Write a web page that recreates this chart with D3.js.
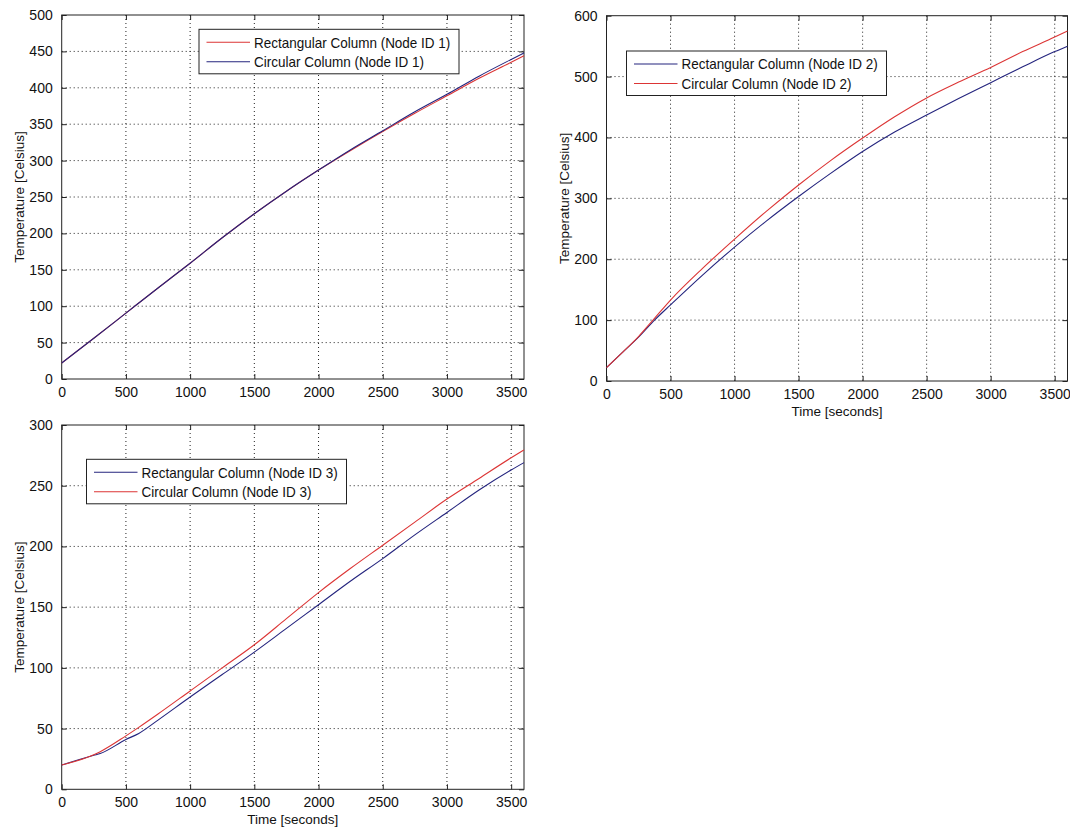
<!DOCTYPE html>
<html>
<head>
<meta charset="utf-8">
<script src="https://cdn.jsdelivr.net/npm/d3@7"></script>
<style>
  html, body { margin: 0; padding: 0; background: #fff; }
  svg { display: block; }
  text { font-family: "Liberation Sans", Arial, Helvetica, sans-serif; fill: #111; }
</style>
</head>
<body>
<svg id="fig" width="1070" height="828"></svg>
<script>
// Time samples (seconds) and temperatures (Celsius) for each node
const timeNode1 = [0, 250, 500, 750, 1000, 1250, 1500, 1750, 2000, 2250, 2500, 2750, 3000, 3250, 3500, 3600];
const rectNode1 = [22, 56, 90.5, 125, 159, 194, 227, 258, 287, 314, 340, 365, 389, 413, 435, 444];
const circNode1 = [22, 56, 90.5, 125, 159, 194, 227, 258, 287, 315, 341, 367, 391, 416, 439, 448];

const timeNode2 = [0, 125, 250, 375, 500, 750, 1000, 1250, 1500, 1750, 2000, 2250, 2500, 2750, 3000, 3250, 3500, 3600];
const rectNode2 = [22, 47, 72, 100, 125, 174, 220, 263, 303, 341, 377, 409, 437, 464, 490, 516, 541, 550];
const circNode2 = [22, 47, 73, 103, 133, 185, 233, 279, 322, 362, 399, 434, 465, 491, 515, 541, 565, 575];

const timeNode3 = [0, 250, 300, 500, 600, 750, 1000, 1250, 1500, 1750, 2000, 2250, 2500, 2750, 3000, 3250, 3500, 3600];
const rectNode3 = [20, 28, 29.5, 41, 46, 57, 76, 94.5, 113, 132.5, 152, 171.5, 190, 209.5, 228, 246.5, 263, 269];
const circNode3 = [20, 28.5, 31, 44, 51, 62, 81, 100, 119, 140.5, 162, 182, 201, 220, 239, 256, 273, 279.5];

const xTicks = [0, 500, 1000, 1500, 2000, 2500, 3000, 3500];
const yTicksNode1 = [0, 50, 100, 150, 200, 250, 300, 350, 400, 450, 500];
const yTicksNode2 = [0, 100, 200, 300, 400, 500, 600];
const yTicksNode3 = [0, 50, 100, 150, 200, 250, 300];

const RED = "#dc3535";
const BLUE = "#24247e";

const svg = d3.select("#fig");

function panel(cfg) {
  const { left, right, top, bottom, yMax, yTicks, series, legendX, legendY, xLabel } = cfg;
  const x = d3.scaleLinear().domain([0, 3600]).range([left, right]);
  const y = d3.scaleLinear().domain([0, yMax]).range([bottom, top]);
  const g = svg.append("g");

  // dotted grid
  g.selectAll(".gx").data(xTicks.filter(t => t > 0)).join("line")
    .attr("x1", d => x(d)).attr("x2", d => x(d))
    .attr("y1", top).attr("y2", bottom)
    .attr("stroke", "#222").attr("stroke-width", 1).attr("stroke-dasharray", "1,3");
  g.selectAll(".gy").data(yTicks.filter(t => t > 0 && t < yMax)).join("line")
    .attr("x1", left).attr("x2", right)
    .attr("y1", d => y(d)).attr("y2", d => y(d))
    .attr("stroke", "#222").attr("stroke-width", 1).attr("stroke-dasharray", "1,3");

  // axes with inward ticks on all four sides
  const tick = 5;
  const ax = d3.axisBottom(x).tickValues(xTicks).tickSize(-tick).tickPadding(8).tickFormat(d3.format("d"));
  const ay = d3.axisLeft(y).tickValues(yTicks).tickSize(-tick).tickPadding(9).tickFormat(d3.format("d"));
  const axTop = d3.axisTop(x).tickValues(xTicks).tickSize(-tick).tickFormat("");
  const ayRight = d3.axisRight(y).tickValues(yTicks).tickSize(-tick).tickFormat("");

  const styleAxis = sel => {
    sel.select(".domain").remove();
    sel.selectAll(".tick line").attr("stroke", "#222");
    sel.selectAll("text").attr("font-size", "14px").attr("fill", "#111")
      .attr("font-family", '"Liberation Sans", Arial, sans-serif');
  };
  g.append("g").attr("transform", `translate(0,${bottom})`).call(ax).call(styleAxis);
  g.append("g").attr("transform", `translate(${left},0)`).call(ay).call(styleAxis);
  g.append("g").attr("transform", `translate(0,${top})`).call(axTop).call(styleAxis);
  g.append("g").attr("transform", `translate(${right},0)`).call(ayRight).call(styleAxis);

  g.append("rect").attr("x", left).attr("y", top)
    .attr("width", right - left).attr("height", bottom - top)
    .attr("fill", "none").attr("stroke", "#222").attr("stroke-width", 1);

  // temperature curves
  const line = d3.line().x(d => x(d[0])).y(d => y(d[1])).curve(d3.curveMonotoneX);
  series.forEach(s => {
    g.append("path")
      .datum(s.time.map((t, i) => [t, s.values[i]]))
      .attr("d", line)
      .attr("fill", "none").attr("stroke", s.color).attr("stroke-width", 1.1);
  });

  // axis titles
  g.append("text")
    .attr("transform", `translate(${left - 42},${(top + bottom) / 2}) rotate(-90)`)
    .attr("text-anchor", "middle").attr("dominant-baseline", "central")
    .attr("font-size", "13.5px").text("Temperature [Celsius]");
  if (xLabel) {
    g.append("text")
      .attr("x", (left + right) / 2).attr("y", bottom + 30)
      .attr("text-anchor", "middle").attr("dominant-baseline", "central")
      .attr("font-size", "13.5px").text(xLabel);
  }

  // legend
  const lg = g.append("g").attr("transform", `translate(${legendX},${legendY})`);
  lg.append("rect").attr("width", 260).attr("height", 44.5)
    .attr("fill", "#fff").attr("stroke", "#222").attr("stroke-width", 1);
  series.forEach((s, i) => {
    const ry = 13 + i * 19.5;
    lg.append("line").attr("x1", 7.5).attr("x2", 51).attr("y1", ry).attr("y2", ry)
      .attr("stroke", s.color).attr("stroke-width", 1.1);
    lg.append("text").attr("transform", `translate(55,${ry}) scale(0.9,1)`)
      .attr("dominant-baseline", "central")
      .attr("font-size", "15px").text(s.name);
  });
}

panel({
  left: 61.7, right: 524, top: 15, bottom: 379, yMax: 500, yTicks: yTicksNode1,
  legendX: 199, legendY: 29.3, xLabel: null,
  series: [
    { name: "Rectangular Column (Node ID 1)", time: timeNode1, values: rectNode1, color: RED },
    { name: "Circular Column (Node ID 1)", time: timeNode1, values: circNode1, color: BLUE }
  ]
});

panel({
  left: 606.5, right: 1067.5, top: 15.7, bottom: 381, yMax: 600, yTicks: yTicksNode2,
  legendX: 626.5, legendY: 51, xLabel: "Time [seconds]",
  series: [
    { name: "Rectangular Column (Node ID 2)", time: timeNode2, values: rectNode2, color: BLUE },
    { name: "Circular Column (Node ID 2)", time: timeNode2, values: circNode2, color: RED }
  ]
});

panel({
  left: 61.7, right: 524, top: 425, bottom: 789.3, yMax: 300, yTicks: yTicksNode3,
  legendX: 86.5, legendY: 459.3, xLabel: "Time [seconds]",
  series: [
    { name: "Rectangular Column (Node ID 3)", time: timeNode3, values: rectNode3, color: BLUE },
    { name: "Circular Column (Node ID 3)", time: timeNode3, values: circNode3, color: RED }
  ]
});
</script>
</body>
</html>
